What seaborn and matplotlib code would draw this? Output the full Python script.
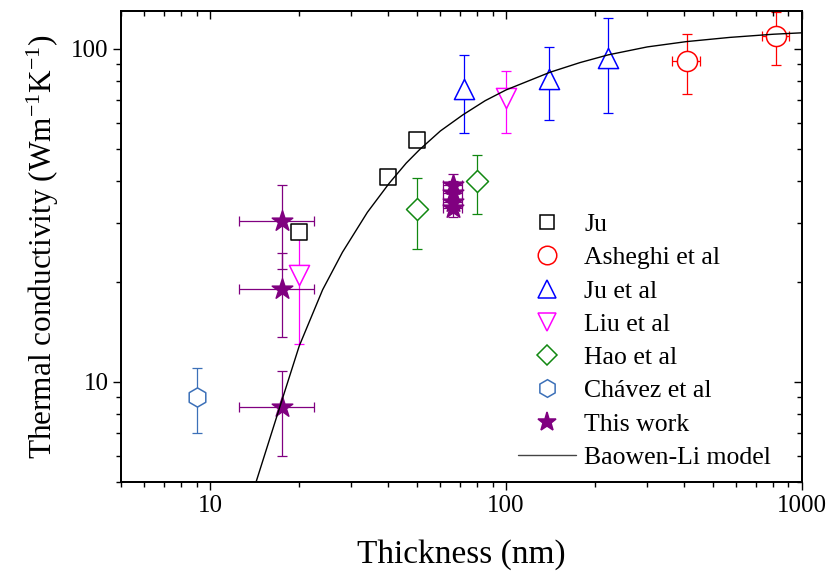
import matplotlib
matplotlib.use("Agg")
import matplotlib.pyplot as plt
from matplotlib.lines import Line2D
from matplotlib.ticker import LogLocator, NullFormatter, FixedLocator, FixedFormatter
import seaborn as sns

sns.set_theme(style="ticks")
plt.rcParams["font.family"] = ["Liberation Serif", "DejaVu Serif"]
plt.rcParams["mathtext.fontset"] = "custom"
plt.rcParams["mathtext.rm"] = "Liberation Serif"
plt.rcParams["mathtext.it"] = "Liberation Serif:italic"
plt.rcParams["mathtext.bf"] = "Liberation Serif:bold"
plt.rcParams["axes.edgecolor"] = "black"
plt.rcParams["xtick.color"] = "black"
plt.rcParams["ytick.color"] = "black"
plt.rcParams["text.color"] = "black"
plt.rcParams["axes.labelcolor"] = "black"

# ---- measured thermal conductivity (W m^-1 K^-1) vs film thickness (nm) ----
ju_x = [20, 40, 50]
ju_y = [28.1, 41.2, 53.3]

asheghi_x = [408, 820]
asheghi_y = [92, 109.5]
asheghi_xerr = [43, 85]
asheghi_yerr = [19, 20]

ju_etal_x = [72, 140, 221]
ju_etal_y = [76, 81, 94]
ju_etal_yerr = [20, 20, 30]

liu_x = [20, 100]
liu_y = [21, 71]
liu_yerr = [8, 15]

hao_x = [50, 80]
hao_y = [33, 40]
hao_yerr = [8, 8]

chavez_x = [9]
chavez_y = [9]
chavez_yerr = [2]

this_x = [17.5, 17.5, 17.5, 66, 66, 66, 66]
this_y = [8.4, 19.0, 30.4, 33.3, 34.7, 37.0, 39.0]
this_xerr = [5, 5, 5, 5, 5, 5, 5]
this_yerr = [2.4, 5.4, 8.6, 2.0, 2.5, 3.0, 3.2]

# Baowen-Li model curve
model_x = [14.3, 17.2, 20, 24, 28, 34, 40.3, 46, 51, 60, 71.5, 85, 100,
           140.8, 177.9, 221.7, 300, 407, 570, 800, 1000]
model_y = [5.0, 8.4, 12.8, 18.9, 24.5, 32.3, 39.5, 45.4, 49.8, 56.7, 63.4, 69.9, 75.3,
           85.1, 91.0, 96.0, 101.4, 105.2, 108.3, 110.7, 111.8]

x_ticks = [10, 100, 1000]
x_ticklabels = ["10", "100", "1000"]
y_ticks = [10, 100]
y_ticklabels = ["10", "100"]

series = [
    dict(label="Ju", x=ju_x, y=ju_y, xerr=None, yerr=None,
         marker="s", color="black", ms=11.2, filled=False),
    dict(label="Asheghi et al", x=asheghi_x, y=asheghi_y, xerr=asheghi_xerr, yerr=asheghi_yerr,
         marker="o", color="#FF0000", ms=14.5, filled=False),
    dict(label="Ju et al", x=ju_etal_x, y=ju_etal_y, xerr=None, yerr=ju_etal_yerr,
         marker="^", color="#0000FF", ms=14.5, filled=False),
    dict(label="Liu et al", x=liu_x, y=liu_y, xerr=None, yerr=liu_yerr,
         marker="v", color="#FF00FF", ms=14.5, filled=False),
    dict(label="Hao et al", x=hao_x, y=hao_y, xerr=None, yerr=hao_yerr,
         marker="D", color="#118811", ms=11.2, filled=False),
    dict(label="Chávez et al", x=chavez_x, y=chavez_y, xerr=None, yerr=chavez_yerr,
         marker="h", color="#3C70B8", ms=13.8, filled=False),
    dict(label="This work", x=this_x, y=this_y, xerr=this_xerr, yerr=this_yerr,
         marker="*", color="#800080", ms=15.5, filled=True),
]

fig = plt.figure(figsize=(8.3, 5.77), dpi=100)
ax = fig.add_axes([121 / 830, 1 - 482 / 577, (802 - 121) / 830, (482 - 11) / 577])
ax.set_xscale("log")
ax.set_yscale("log")

for s in series:
    if s["xerr"] is not None or s["yerr"] is not None:
        ax.errorbar(s["x"], s["y"], xerr=s["xerr"], yerr=s["yerr"], fmt="none",
                    ecolor=s["color"], elinewidth=0.9, capsize=3.4, capthick=0.9,
                    zorder=2)
    sns.scatterplot(x=s["x"], y=s["y"], marker=s["marker"], s=s["ms"] ** 2,
                    facecolor=s["color"] if s["filled"] else "white",
                    edgecolor=s["color"], linewidth=1.1, ax=ax, zorder=3,
                    legend=False)

sns.lineplot(x=model_x, y=model_y, color="black", linewidth=1.0, ax=ax,
             zorder=4, errorbar=None, legend=False)

ax.set_xlim(5, 1000)
ax.set_ylim(5, 130)

ax.xaxis.set_major_locator(FixedLocator(x_ticks))
ax.xaxis.set_major_formatter(FixedFormatter(x_ticklabels))
ax.yaxis.set_major_locator(FixedLocator(y_ticks))
ax.yaxis.set_major_formatter(FixedFormatter(y_ticklabels))
for axis in (ax.xaxis, ax.yaxis):
    axis.set_minor_locator(LogLocator(base=10, subs=range(2, 10)))
    axis.set_minor_formatter(NullFormatter())

ax.tick_params(which="both", direction="out", width=1.0, labelsize=18, pad=3)
ax.tick_params(which="major", length=6)
ax.tick_params(which="minor", length=3.5)
for sp in ax.spines.values():
    sp.set_linewidth(1.1)
    sp.set_color("black")

# inward ticks on the top and right frame edges
top = ax.twiny()
top.set_xscale("log")
top.set_xlim(5, 1000)
top.xaxis.set_major_locator(FixedLocator(x_ticks))
top.xaxis.set_minor_locator(LogLocator(base=10, subs=range(2, 10)))
top.xaxis.set_minor_formatter(NullFormatter())
top.tick_params(axis="x", which="both", direction="in", width=1.0, labeltop=False)
top.tick_params(axis="x", which="major", length=6)
top.tick_params(axis="x", which="minor", length=3.5)

right = ax.twinx()
right.set_yscale("log")
right.set_ylim(5, 130)
right.yaxis.set_major_locator(FixedLocator(y_ticks))
right.yaxis.set_minor_locator(LogLocator(base=10, subs=range(2, 10)))
right.yaxis.set_minor_formatter(NullFormatter())
right.tick_params(axis="y", which="both", direction="in", width=1.0, labelright=False)
right.tick_params(axis="y", which="major", length=6)
right.tick_params(axis="y", which="minor", length=3.5)
for extra in (top, right):
    for sp in extra.spines.values():
        sp.set_linewidth(1.1)
        sp.set_color("black")

ax.set_xlabel("Thickness (nm)", fontsize=24, labelpad=16)
ax.set_ylabel(r"Thermal conductivity (Wm$^{-1}$K$^{-1}$)", fontsize=22.5, labelpad=7)

handles = []
for s in series:
    handles.append(Line2D([], [], linestyle="none", marker=s["marker"],
                          markersize=s["ms"] * 0.92,
                          markerfacecolor=s["color"] if s["filled"] else "white",
                          markeredgecolor=s["color"], markeredgewidth=1.1,
                          label=s["label"]))
handles.append(Line2D([], [], color="#444444", linewidth=1.0, label="Baowen-Li model"))

ax.legend(handles=handles, loc="upper left",
          bbox_to_anchor=(518 / 830, 1 - 213 / 577), bbox_transform=fig.transFigure,
          frameon=False, fontsize=18.5, borderpad=0, borderaxespad=0,
          handlelength=2.27, handletextpad=0.3, labelspacing=0.4)

fig.savefig("out.png", dpi=100)
